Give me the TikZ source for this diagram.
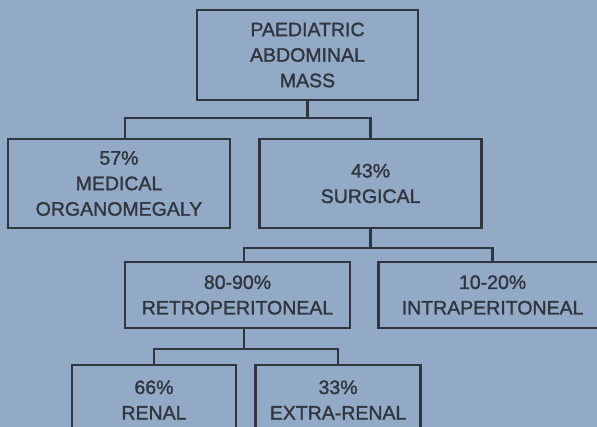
\documentclass[tikz,border=0pt]{standalone}
\usepackage{fontspec}
\setmainfont{Liberation Sans}[BoldFont={Liberation Sans}, BoldFeatures={FakeBold=1.4}]
\usepackage{xcolor}
\usetikzlibrary{positioning}

\definecolor{paper}{RGB}{146,170,198}
\definecolor{ink}{RGB}{48,53,62}

\begin{document}
\begin{tikzpicture}[
      x=1pt, y=-1pt,
      font=\bfseries\fontsize{19.5}{25.5}\selectfont,
      box/.style={draw=ink, text=ink, line width=2.6pt, align=center, inner sep=0pt},
      bigbox/.style={box, minimum width=222pt, minimum height=89pt},
      midbox/.style={box, minimum height=66pt},
      lowbox/.style={box, minimum height=70pt},
      link/.style={draw=ink, line width=2.4pt}
    ]
      \fill[paper] (0,0) rectangle (597,427);
      \useasboundingbox (0,0) rectangle (597,427);

      \node[bigbox, minimum width=221pt, minimum height=90pt] (mass) at (307.5,55) {PAEDIATRIC\\ABDOMINAL\\MASS};
      \node[bigbox] (medical) at (119,183.5) {57\%\\MEDICAL\\ORGANOMEGALY};
      \node[bigbox, right=27pt of medical] (surgical) {43\%\\SURGICAL};
      \node[midbox, minimum width=225pt] (retro) at (237.5,295) {80-90\%\\RETROPERITONEAL};
      \node[midbox, minimum width=228pt, right=26pt of retro] (intra) {10-20\%\\INTRAPERITONEAL};
      \node[lowbox, minimum width=164pt] (renal) at (154,400) {66\%\\RENAL};
      \node[lowbox, minimum width=165pt, right=17pt of renal] (extra) {33\%\\EXTRA-RENAL};

      % mass -> medical / surgical
      \draw[link] (mass.south) -- ++(0,17) coordinate (j1);
      \draw[link] (j1) -| ([xshift=6pt]medical.north);
      \draw[link] (j1) -| (surgical.north);
      % surgical -> retro / intra
      \draw[link] (surgical.south) -- ++(0,19) coordinate (j2);
      \draw[link] (j2) -| ([xshift=6.5pt]retro.north);
      \draw[link] (j2) -| (intra.north);
      % retro -> renal / extra
      \draw[link] ([xshift=6.5pt]retro.south) -- ++(0,20) coordinate (j3);
      \draw[link] (j3) -| (renal.north);
      \draw[link] (j3) -| (extra.north);
    \end{tikzpicture}
\end{document}
